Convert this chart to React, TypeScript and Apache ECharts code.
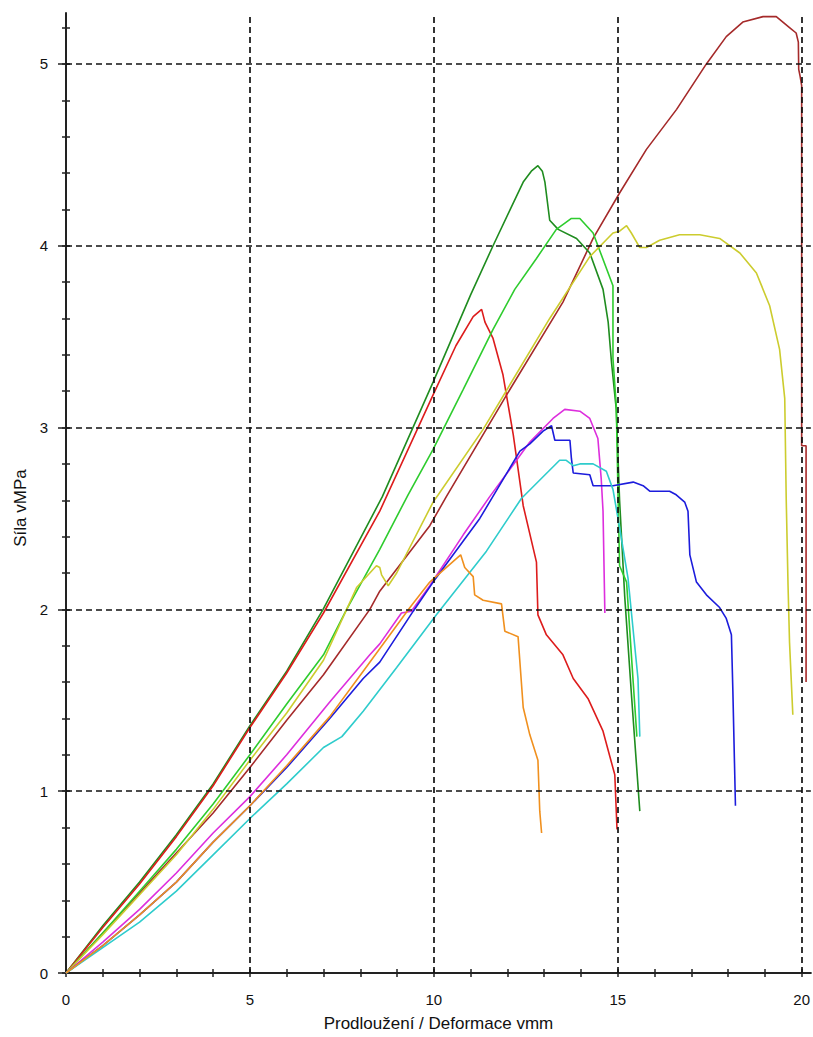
import React, { useEffect, useRef } from "react";
import * as echarts from "echarts";

// ---- axis ticks / labels ----
const xMajor = [0, 5, 10, 15, 20];
const xMinor = [0, 1, 2, 3, 4, 5, 6, 7, 8, 9, 10, 11, 12, 13, 14, 15, 16, 17, 18, 19, 20];
const yMajor = [0, 1, 2, 3, 4, 5];
const yMinor = [0, 0.2, 0.4, 0.6, 0.8, 1, 1.2, 1.4, 1.6, 1.8, 2, 2.2, 2.4, 2.6, 2.8, 3, 3.2, 3.4, 3.6, 3.8, 4, 4.2, 4.4, 4.6, 4.8, 5, 5.2];
const xGrid = [5, 10, 15, 20];
const yGrid = [1, 2, 3, 4, 5];

// ---- series data (x = deformation mm, y = force MPa) ----
const brownX = [0, 1, 2, 3, 4, 5, 6, 7, 8.26, 8.53, 9.89, 10.34, 11.98, 13.51, 14.33, 15.05, 15.78, 16.6, 17.41, 17.95, 18.4, 18.95, 19.31, 19.67, 19.85, 19.91, 19.92, 19.96, 20.0, 20.0, 20.12, 20.12];
const brownY = [0, 0.22, 0.44, 0.66, 0.88, 1.13, 1.39, 1.64, 2.0, 2.1, 2.46, 2.62, 3.18, 3.69, 4.04, 4.29, 4.53, 4.75, 5.0, 5.15, 5.23, 5.26, 5.26, 5.2, 5.17, 5.12, 4.97, 4.93, 4.88, 2.9, 2.9, 1.6];

const dkGreenX = [0, 1, 2, 3, 4, 5, 6, 6.99, 8.6, 9.98, 11.0, 11.61, 12.1, 12.43, 12.65, 12.83, 12.95, 13.02, 13.15, 13.38, 13.88, 14.24, 14.6, 14.74, 14.83, 14.96, 15.05, 15.19, 15.38, 15.6];
const dkGreenY = [0, 0.26, 0.5, 0.76, 1.04, 1.36, 1.66, 2.0, 2.62, 3.25, 3.73, 4.0, 4.21, 4.35, 4.41, 4.44, 4.41, 4.35, 4.14, 4.09, 4.04, 3.96, 3.76, 3.58, 3.36, 3.1, 2.6, 2.07, 1.51, 0.89];

const redX = [0, 1, 2, 3, 4, 5, 6, 7, 8.53, 9.98, 10.6, 11.07, 11.3, 11.39, 11.61, 11.88, 12.16, 12.43, 12.79, 12.83, 13.06, 13.51, 13.79, 14.19, 14.6, 14.92, 14.98];
const redY = [0, 0.25, 0.49, 0.75, 1.03, 1.35, 1.65, 1.98, 2.54, 3.18, 3.45, 3.61, 3.65, 3.58, 3.49, 3.29, 2.96, 2.57, 2.26, 1.97, 1.86, 1.75, 1.62, 1.51, 1.33, 1.09, 0.79];

const ltGreenX = [0, 1, 2, 3, 4, 5, 6, 7, 7.63, 8.53, 9.3, 9.98, 10.8, 11.61, 12.2, 12.79, 13.33, 13.74, 13.97, 14.33, 14.87, 14.87, 14.96, 15.01, 15.05, 15.24, 15.42, 15.52];
const ltGreenY = [0, 0.22, 0.45, 0.68, 0.93, 1.2, 1.48, 1.75, 2.0, 2.33, 2.63, 2.88, 3.21, 3.54, 3.76, 3.93, 4.09, 4.15, 4.15, 4.07, 3.78, 3.38, 3.12, 2.61, 2.24, 2.15, 1.6, 1.3];

const yellowX = [0, 1, 2, 3, 4, 5, 6, 7, 7.9, 8.44, 8.53, 8.58, 8.76, 8.99, 9.98, 10.12, 11.34, 13.15, 14.24, 14.87, 15.05, 15.24, 15.37, 15.6, 15.78, 16.14, 16.68, 17.23, 17.77, 18.32, 18.77, 19.13, 19.4, 19.54, 19.58, 19.63, 19.67, 19.76];
const yellowY = [0, 0.21, 0.43, 0.65, 0.9, 1.17, 1.43, 1.72, 2.12, 2.24, 2.23, 2.19, 2.13, 2.2, 2.59, 2.63, 2.99, 3.6, 3.94, 4.07, 4.08, 4.11, 4.07, 3.99, 3.99, 4.03, 4.06, 4.06, 4.04, 3.96, 3.85, 3.67, 3.43, 3.16, 2.61, 2.13, 1.82, 1.42];

const magentaX = [0, 1, 2, 3, 4, 5, 6, 7.17, 8.26, 8.53, 9.12, 9.39, 9.89, 10.8, 11.52, 12.61, 13.24, 13.56, 13.97, 14.24, 14.46, 14.55, 14.6, 14.65];
const magentaY = [0, 0.17, 0.35, 0.55, 0.77, 0.97, 1.2, 1.49, 1.75, 1.81, 1.98, 1.99, 2.13, 2.41, 2.62, 2.92, 3.05, 3.1, 3.09, 3.05, 2.94, 2.72, 2.54, 1.98];

const blueX = [0, 1, 2, 3, 4, 5, 6, 7.17, 8.08, 8.53, 9.44, 9.98, 11.25, 12.34, 12.61, 12.97, 13.2, 13.29, 13.7, 13.74, 13.79, 14.24, 14.33, 14.87, 15.42, 15.69, 15.87, 16.41, 16.59, 16.82, 16.91, 16.96, 17.14, 17.41, 17.77, 17.95, 18.09, 18.13, 18.2];
const blueY = [0, 0.15, 0.32, 0.5, 0.72, 0.92, 1.13, 1.4, 1.62, 1.71, 1.99, 2.15, 2.5, 2.87, 2.91, 2.98, 3.01, 2.93, 2.93, 2.83, 2.75, 2.74, 2.68, 2.68, 2.7, 2.68, 2.65, 2.65, 2.63, 2.59, 2.54, 2.3, 2.15, 2.08, 2.01, 1.95, 1.86, 1.55, 0.92];

const cyanX = [0, 1, 2, 3, 4, 5, 6, 7, 7.5, 8.08, 8.99, 10.07, 11.43, 12.38, 13.42, 13.6, 13.79, 13.97, 14.33, 14.69, 14.87, 15.05, 15.28, 15.55, 15.6];
const cyanY = [0, 0.14, 0.28, 0.45, 0.65, 0.85, 1.04, 1.24, 1.3, 1.44, 1.68, 1.97, 2.32, 2.61, 2.82, 2.82, 2.79, 2.8, 2.8, 2.76, 2.66, 2.45, 2.17, 1.62, 1.3];

const orangeX = [0, 1, 2, 3, 4, 5, 6, 7.17, 8.08, 9.35, 9.89, 10.62, 10.73, 10.84, 11.07, 11.11, 11.34, 11.84, 11.93, 12.29, 12.43, 12.61, 12.83, 12.88, 12.93];
const orangeY = [0, 0.15, 0.32, 0.5, 0.72, 0.92, 1.14, 1.41, 1.66, 2.01, 2.15, 2.28, 2.3, 2.23, 2.18, 2.08, 2.05, 2.03, 1.88, 1.85, 1.46, 1.31, 1.17, 0.89, 0.77];

const seriesDefs = [
  { name: "S1", xs: brownX, ys: brownY, color: "#a52a2a" },
  { name: "S2", xs: dkGreenX, ys: dkGreenY, color: "#1f8c1f" },
  { name: "S3", xs: redX, ys: redY, color: "#dd1c1c" },
  { name: "S4", xs: ltGreenX, ys: ltGreenY, color: "#2ecc2e" },
  { name: "S5", xs: yellowX, ys: yellowY, color: "#cccc2e" },
  { name: "S6", xs: magentaX, ys: magentaY, color: "#dd2edd" },
  { name: "S7", xs: blueX, ys: blueY, color: "#1c1cdc" },
  { name: "S8", xs: cyanX, ys: cyanY, color: "#2ecccc" },
  { name: "S9", xs: orangeX, ys: orangeY, color: "#f0901e" },
];

const X_MAX = 20.25;
const Y_MAX = 5.28;
const FONT = "'Liberation Sans', Arial, sans-serif";

export default function App() {
  const ref = useRef<HTMLDivElement>(null);
  useEffect(() => {
    if (!ref.current) return;
    const chart = echarts.init(ref.current, null, { renderer: "svg" });
    const baseX = { type: "value", min: 0, max: X_MAX, gridIndex: 0, splitLine: { show: false } };
    const baseY = { type: "value", min: 0, max: Y_MAX, gridIndex: 0, splitLine: { show: false } };
    const gridLineStyle = { color: "#111", type: [6, 4], width: 1.7 };
    chart.setOption({
      animation: false,
      backgroundColor: "#ffffff",
      textStyle: { fontFamily: FONT },
      grid: { left: 66, right: 2, top: 13, bottom: 61 },
      xAxis: [
        {
          ...baseX,
          position: "bottom",
          name: "Prodloužení / Deformace vmm",
          nameLocation: "middle",
          nameGap: 42,
          nameTextStyle: { color: "#111", fontSize: 17, fontFamily: FONT },
          axisLine: { show: true, onZero: false, lineStyle: { color: "#222", width: 2 } },
          axisTick: { show: true, inside: false, length: 4, customValues: xMinor, lineStyle: { color: "#222", width: 1.5 } },
          axisLabel: { show: true, customValues: xMajor, margin: 19, color: "#111", fontSize: 15, fontFamily: FONT },
        },
        {
          ...baseX,
          position: "bottom",
          axisLine: { show: false },
          axisTick: { show: true, inside: true, length: 4, customValues: xMinor, lineStyle: { color: "#222", width: 1.5 } },
          axisLabel: { show: false },
        },
      ],
      yAxis: [
        {
          ...baseY,
          position: "left",
          name: "Síla vMPa",
          nameLocation: "middle",
          nameGap: 37,
          nameTextStyle: { color: "#111", fontSize: 17, fontFamily: FONT, padding: [0, 0, 0, -30] },
          axisLine: { show: true, onZero: false, lineStyle: { color: "#222", width: 2 } },
          axisTick: { show: true, inside: false, length: 4, customValues: yMinor, lineStyle: { color: "#222", width: 1.5 } },
          axisLabel: { show: true, customValues: yMajor, margin: 18, color: "#111", fontSize: 15, fontFamily: FONT },
        },
        {
          ...baseY,
          position: "left",
          axisLine: { show: false },
          axisTick: { show: true, inside: true, length: 4, customValues: yMinor, lineStyle: { color: "#222", width: 1.5 } },
          axisLabel: { show: false },
        },
        {
          ...baseY,
          position: "left",
          axisLine: { show: false },
          axisTick: { show: true, inside: false, length: 8, customValues: yMajor, lineStyle: { color: "#222", width: 1.5 } },
          axisLabel: { show: false },
        },
      ],
      series: [
        {
          type: "line",
          name: "grid",
          data: [],
          silent: true,
          markLine: {
            silent: true,
            symbol: ["none", "none"],
            label: { show: false },
            lineStyle: gridLineStyle,
            emphasis: { disabled: true },
            data: [
              ...xGrid.map((v) => ({ xAxis: v })),
              ...yGrid.map((v) => ({ yAxis: v })),
            ],
          },
        },
        ...seriesDefs.map((s) => ({
          type: "line",
          name: s.name,
          data: s.xs.map((x, i) => [x, s.ys[i]]),
          showSymbol: false,
          symbol: "none",
          smooth: false,
          lineStyle: { color: s.color, width: 1.6 },
          itemStyle: { color: s.color },
          emphasis: { disabled: true },
          z: 3,
        })),
      ],
    });
    return () => chart.dispose();
  }, []);
  return (
    <div
      ref={ref}
      style={{ position: "fixed", left: 0, top: 0, width: 813, height: 1037, background: "#fff" }}
    />
  );
}
